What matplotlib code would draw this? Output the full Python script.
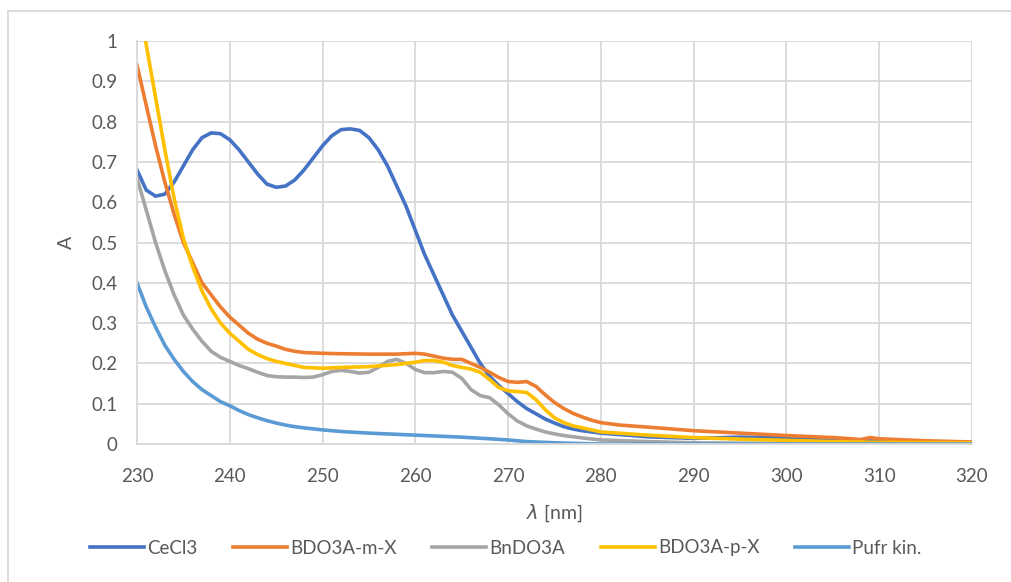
import matplotlib
matplotlib.use('Agg')
import matplotlib.pyplot as plt
from matplotlib.lines import Line2D

# CeCl3
x_ce = [230, 231, 232, 233, 234, 235, 236, 237, 238, 239, 240, 241, 242, 243, 244, 245, 246, 247, 248, 249,
        250, 251, 252, 253, 254, 255, 256, 257, 258, 259, 260, 261, 262, 263, 264, 265, 266, 267, 268, 269,
        270, 271, 272, 273, 274, 275, 276, 277, 278, 280, 285, 290, 295, 300, 305, 310, 315, 320]
y_ce = [0.68, 0.63, 0.615, 0.62, 0.65, 0.69, 0.73, 0.76, 0.772, 0.77, 0.755, 0.73, 0.70, 0.67, 0.645, 0.637, 0.64, 0.655, 0.68, 0.71,
        0.74, 0.765, 0.78, 0.782, 0.778, 0.76, 0.73, 0.69, 0.64, 0.59, 0.53, 0.47, 0.42, 0.37, 0.32, 0.28, 0.24, 0.20, 0.168, 0.145,
        0.125, 0.105, 0.088, 0.075, 0.062, 0.052, 0.043, 0.037, 0.033, 0.027, 0.018, 0.014, 0.017, 0.015, 0.010, 0.007, 0.006, 0.004]

# BDO3A-m-X
x_m = [230, 231, 232, 233, 234, 235, 236, 237, 238, 239, 240, 241, 242, 243, 244, 245, 246, 247, 248, 250,
       252, 255, 258, 260, 261, 262, 263, 264, 265, 266, 267, 268, 269, 270, 271, 272, 273, 274, 275, 276,
       277, 278, 279, 280, 282, 285, 290, 295, 300, 305, 307, 308, 309, 310, 315, 320]
y_m = [0.94, 0.84, 0.74, 0.65, 0.57, 0.50, 0.45, 0.40, 0.37, 0.34, 0.315, 0.295, 0.275, 0.26, 0.25, 0.243, 0.235, 0.23, 0.227, 0.225,
       0.224, 0.223, 0.223, 0.225, 0.223, 0.218, 0.213, 0.21, 0.21, 0.20, 0.19, 0.178, 0.165, 0.155, 0.153, 0.155, 0.143, 0.122, 0.103, 0.088,
       0.076, 0.067, 0.059, 0.053, 0.047, 0.042, 0.033, 0.027, 0.021, 0.016, 0.013, 0.011, 0.016, 0.013, 0.008, 0.005]

# BnDO3A
x_bn = [230, 231, 232, 233, 234, 235, 236, 237, 238, 239, 240, 241, 242, 243, 244, 245, 246, 247, 248, 249,
        250, 251, 252, 253, 254, 255, 256, 257, 258, 259, 260, 261, 262, 263, 264, 265, 266, 267, 268, 269,
        270, 271, 272, 273, 274, 275, 276, 278, 280, 285, 290, 295, 300, 320]
y_bn = [0.66, 0.58, 0.50, 0.43, 0.37, 0.32, 0.285, 0.255, 0.23, 0.215, 0.205, 0.195, 0.187, 0.178, 0.17, 0.167, 0.166, 0.166, 0.165, 0.166,
        0.172, 0.18, 0.183, 0.18, 0.176, 0.178, 0.19, 0.205, 0.21, 0.20, 0.185, 0.177, 0.177, 0.18, 0.178, 0.163, 0.135, 0.12, 0.115, 0.097,
        0.075, 0.057, 0.045, 0.037, 0.030, 0.025, 0.021, 0.015, 0.010, 0.006, 0.003, 0.002, 0.001, 0.0]

# BDO3A-p-X
x_p = [230, 231, 232, 233, 234, 235, 236, 237, 238, 239, 240, 241, 242, 243, 244, 245, 246, 247, 248, 250,
       252, 255, 258, 260, 261, 262, 263, 264, 265, 266, 267, 268, 269, 270, 271, 272, 273, 274, 275, 276,
       277, 278, 280, 285, 290, 295, 300, 305, 310, 320]
y_p = [1.12, 0.99, 0.86, 0.73, 0.61, 0.51, 0.44, 0.38, 0.335, 0.30, 0.275, 0.255, 0.235, 0.222, 0.212, 0.205, 0.20, 0.195, 0.19, 0.188,
       0.19, 0.192, 0.197, 0.203, 0.207, 0.207, 0.203, 0.195, 0.19, 0.186, 0.178, 0.16, 0.14, 0.132, 0.13, 0.128, 0.11, 0.085, 0.065, 0.053,
       0.045, 0.04, 0.03, 0.022, 0.016, 0.012, 0.009, 0.006, 0.004, 0.003]

# Pufr kin.
x_pu = [230, 231, 232, 233, 234, 235, 236, 237, 238, 239, 240, 241, 242, 243, 244, 245, 246, 247, 248, 250,
        252, 255, 258, 260, 262, 265, 268, 270, 272, 275, 278, 280, 320]
y_pu = [0.40, 0.34, 0.29, 0.245, 0.21, 0.18, 0.155, 0.135, 0.12, 0.105, 0.095, 0.083, 0.073, 0.065, 0.058, 0.052, 0.047, 0.043, 0.04, 0.035,
        0.031, 0.027, 0.024, 0.022, 0.02, 0.017, 0.013, 0.01, 0.006, 0.003, 0.001, 0.0, 0.0]

series = [
    ("CeCl3", x_ce, y_ce, "#4472C4"),
    ("BDO3A-m-X", x_m, y_m, "#ED7D31"),
    ("BnDO3A", x_bn, y_bn, "#A5A5A5"),
    ("BDO3A-p-X", x_p, y_p, "#FFC000"),
    ("Pufr kin.", x_pu, y_pu, "#5B9BD5"),
]

plt.rcParams['font.family'] = ['Lato', 'DejaVu Sans']
txt = "#595959"
grid = "#D9D9D9"

fig = plt.figure(figsize=(10.11, 5.82), dpi=100)
ax = fig.add_axes([137 / 1011, 1 - 444 / 582, (972 - 137) / 1011, (444 - 41) / 582])

for name, xs, ys, c in series:
    ax.plot(xs, ys, color=c, linewidth=2.6, label=name, solid_joinstyle='round')

ax.set_xlim(230, 320)
ax.set_ylim(0, 1)
ax.set_xticks(range(230, 321, 10))
ax.set_yticks([i / 10 for i in range(11)])
ax.set_yticklabels(["0", "0.1", "0.2", "0.3", "0.4", "0.5", "0.6", "0.7", "0.8", "0.9", "1"])
ax.grid(True, color=grid, linewidth=1.3)
ax.set_axisbelow(True)
for s in ax.spines.values():
    s.set_visible(False)
for side in ('left', 'bottom'):
    ax.spines[side].set_visible(True)
    ax.spines[side].set_color(grid)
    ax.spines[side].set_linewidth(1.3)
ax.tick_params(length=0, labelsize=13.5, colors=txt)
ax.tick_params(axis='x', pad=17)
ax.tick_params(axis='y', pad=14)

ax.set_ylabel("A", fontsize=14, color=txt, labelpad=12)
ax.set_xlabel(r"$\lambda$ [nm]", fontsize=14, color=txt, labelpad=13)
ax.xaxis.label.set_math_fontfamily('dejavusans')

handles = [Line2D([0], [0], color=c, linewidth=2.6) for _, _, _, c in series]
fig.legend(handles, [s[0] for s in series], loc='center', bbox_to_anchor=(0.5, 1 - 548 / 582),
           ncol=5, frameon=False, fontsize=13.5, labelcolor=txt, handlelength=2.9,
           handletextpad=0.15, columnspacing=1.9)

# chart frame
fig.add_artist(Line2D([8 / 1011, 1], [1 - 11 / 582, 1 - 11 / 582], color=grid, linewidth=1.3, transform=fig.transFigure))
fig.add_artist(Line2D([8 / 1011, 8 / 1011], [0, 1 - 11 / 582], color=grid, linewidth=1.3, transform=fig.transFigure))

fig.savefig("out.png", dpi=100)
